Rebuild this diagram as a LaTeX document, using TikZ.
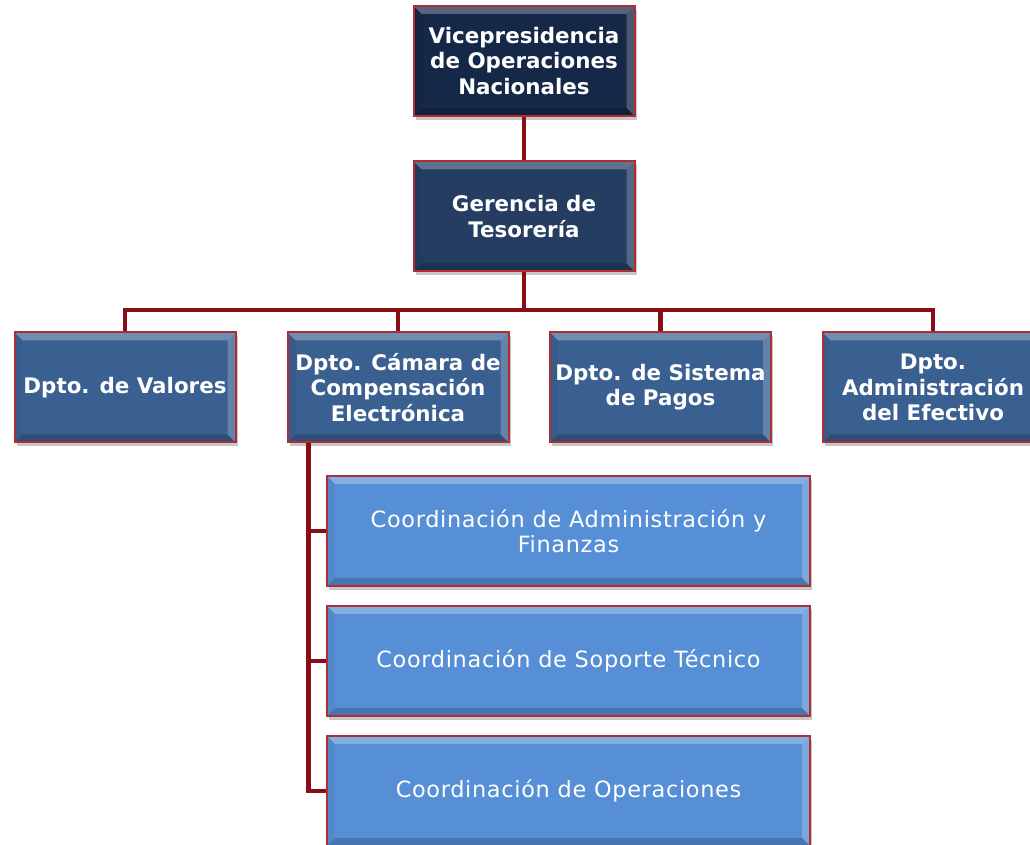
\documentclass[tikz,border=0pt]{standalone}
\usepackage{fontspec}
\setmainfont{DejaVu Sans}
\newfontfamily\coordfont[LetterSpace=3]{DejaVu Sans}
\usetikzlibrary{shadows,calc}
\definecolor{conncol}{RGB}{135,14,20}
\definecolor{boxborder}{RGB}{175,45,52}
\definecolor{cA}{RGB}{22,40,72}
\definecolor{cB}{RGB}{36,61,97}
\definecolor{cC}{RGB}{58,96,145}
\definecolor{cD}{RGB}{86,143,214}
\tikzset{
  bevel/.style={path picture={
    \fill[white,opacity=.28] (path picture bounding box.north west) -- (path picture bounding box.north east)
      -- ([shift={(-4pt,-4pt)}]path picture bounding box.north east) -- ([shift={(4pt,-4pt)}]path picture bounding box.north west) -- cycle;
    \fill[white,opacity=.22] (path picture bounding box.north east) -- (path picture bounding box.south east)
      -- ([shift={(-4pt,4pt)}]path picture bounding box.south east) -- ([shift={(-4pt,-4pt)}]path picture bounding box.north east) -- cycle;
    \fill[black,opacity=.18] (path picture bounding box.south east) -- (path picture bounding box.south west)
      -- ([shift={(4pt,4pt)}]path picture bounding box.south west) -- ([shift={(-4pt,4pt)}]path picture bounding box.south east) -- cycle;
    \fill[black,opacity=.04] (path picture bounding box.south west) -- (path picture bounding box.north west)
      -- ([shift={(4pt,-4pt)}]path picture bounding box.north west) -- ([shift={(4pt,4pt)}]path picture bounding box.south west) -- cycle;
  }},
  orgbox/.style={draw=boxborder, line width=1pt, inner sep=0pt, align=center, text=white,
    minimum height=55pt, bevel,
    drop shadow={shadow xshift=1.2pt, shadow yshift=-2pt, fill=black, opacity=.22}},
  boldbox/.style={orgbox, minimum width=110.5pt, font=\bfseries\fontsize{10.7}{12.6}\selectfont},
  coordbox/.style={orgbox, minimum width=241.5pt, fill=cD, font=\coordfont\fontsize{11.2}{12.6}\selectfont},
  conn/.style={draw=conncol, line width=2.4pt},
}
\begin{document}
\begin{tikzpicture}[x=0.5pt,y=-0.5pt]
\useasboundingbox (0,0) rectangle (1030,845);
% level 0 and 1
\node[boldbox, fill=cA] (vp) at (524,61) {Vicepresidencia\\de Operaciones\\Nacionales};
\node[boldbox, fill=cB] (ger) at (524,216.5) {Gerencia de\\Tesorería};
% level 2
\node[boldbox, fill=cC] (val) at (125,387.5) {Dpto. de Valores};
\node[boldbox, fill=cC] (cam) at (398,387.5) {Dpto. Cámara de\\Compensación\\Electrónica};
\node[boldbox, fill=cC] (sis) at (660.5,387.5) {Dpto. de Sistema\\de Pagos};
\node[boldbox, fill=cC] (efe) at (933,387.5) {Dpto.\\Administración\\del Efectivo};
% coordinations
\node[coordbox] (co1) at (568.5,531) {Coordinación de Administración y\\Finanzas};
\node[coordbox] (co2) at (568.5,661) {Coordinación de Soporte Técnico};
\node[coordbox] (co3) at (568.5,791) {Coordinación de Operaciones};
% connectors
\coordinate (bus) at (524,310);
\draw[conn] (vp.south) -- (ger.north);
\draw[conn] (ger.south) -- (bus);
\draw[conn] (bus) -| (val.north);
\draw[conn] (bus) -| (cam.north);
\draw[conn] (bus) -| (sis.north);
\draw[conn] (bus) -| (efe.north);
\coordinate (sp) at ($(cam.south west)+(22,0)$);
\draw[conn] (sp) |- (co1.west);
\draw[conn] (sp) |- (co2.west);
\draw[conn] (sp) |- (co3.west);
\end{tikzpicture}
\end{document}
